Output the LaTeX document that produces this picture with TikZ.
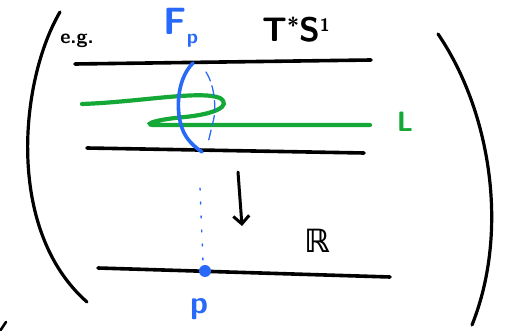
\documentclass[tikz,border=0pt]{standalone}
\usepackage{fontspec}
\newfontfamily\djv{DejaVu Sans}
\usetikzlibrary{arrows.meta}
\definecolor{penblue}{RGB}{40,105,250}
\definecolor{pengreen}{RGB}{20,168,55}
\tikzset{
  ink/.style={line width=3.6pt, line cap=round, black},
  paren/.style={line width=3.2pt, line cap=round, black},
  fib/.style={line width=3.6pt, line cap=round, penblue},
  lag/.style={line width=4.2pt, line cap=round, pengreen},
  lbl/.style={inner sep=0pt},
}
\begin{document}
\begin{tikzpicture}[x=1pt,y=-1pt]
\useasboundingbox (0,0) rectangle (507,331);
% parentheses
\draw[paren] (60,12) .. controls (20,80) and (5,230) .. (87,302);
\draw[paren] (438,34) .. controls (490,110) and (510,230) .. (472,325);
\draw[line width=2.5pt, line cap=round] (6,322) -- (0,331);
% lines
\draw[ink] (75,64) -- (371,60);
\draw[ink] (87,148) -- (364,153);
\draw[ink] (98,268) -- (390,277);
% lagrangian
\draw[lag] (82,104) .. controls (140,102) and (200,90) .. (220,98)
  .. controls (232,106) and (215,114) .. (185,117)
  .. controls (150,120) and (140,126) .. (160,125)
  -- (370,125);
% fiber
\draw[fib] (193,63) .. controls (176,80) and (176,112) .. (182,128)
  .. controls (186,140) and (195,147) .. (202,152);
\draw[penblue, line width=1.3pt, dash pattern=on 10pt off 5pt, line cap=round]
  (206,72) .. controls (216,88) and (216,112) .. (213,122) -- (208,143);
\draw[penblue, line width=1.4pt, dash pattern=on 2pt off 12pt, line cap=round]
  (200,188) -- (203,262);
\node[circle, fill=penblue, inner sep=0pt, minimum size=12pt] (p) at (205,271) {};
% projection arrow
\coordinate (a1) at (238,172);
\coordinate (a2) at (242,226);
\draw[ink, line width=3pt, -{Straight Barb[length=8pt,width=16pt]}] (a1) -- (a2);
% labels
\node[lbl, font={\sffamily\bfseries\fontsize{20}{20}\selectfont}] (eg) at (77,41) {e.g.};
\node[lbl, text=penblue, font={\sffamily\bfseries\fontsize{38}{38}\selectfont}] (F) at (181,28) {F\raisebox{-9pt}{\fontsize{20}{20}\selectfont p}};
\node[lbl, font={\sffamily\bfseries\fontsize{34}{34}\selectfont}] (TS) at (296,30) {T\raisebox{8pt}{\fontsize{22}{22}\selectfont *}S\raisebox{10pt}{\fontsize{18}{18}\selectfont 1}};
\node[lbl, text=pengreen, font={\sffamily\bfseries\fontsize{28}{28}\selectfont}] (L) at (405,122) {L};
\node[lbl, font={\djv\bfseries\fontsize{32}{32}\selectfont}] (R) at (317,241) {ℝ};
\node[lbl, text=penblue, font={\sffamily\bfseries\fontsize{32}{32}\selectfont}] (plabel) at (199,309) {p};
\end{tikzpicture}
\end{document}
